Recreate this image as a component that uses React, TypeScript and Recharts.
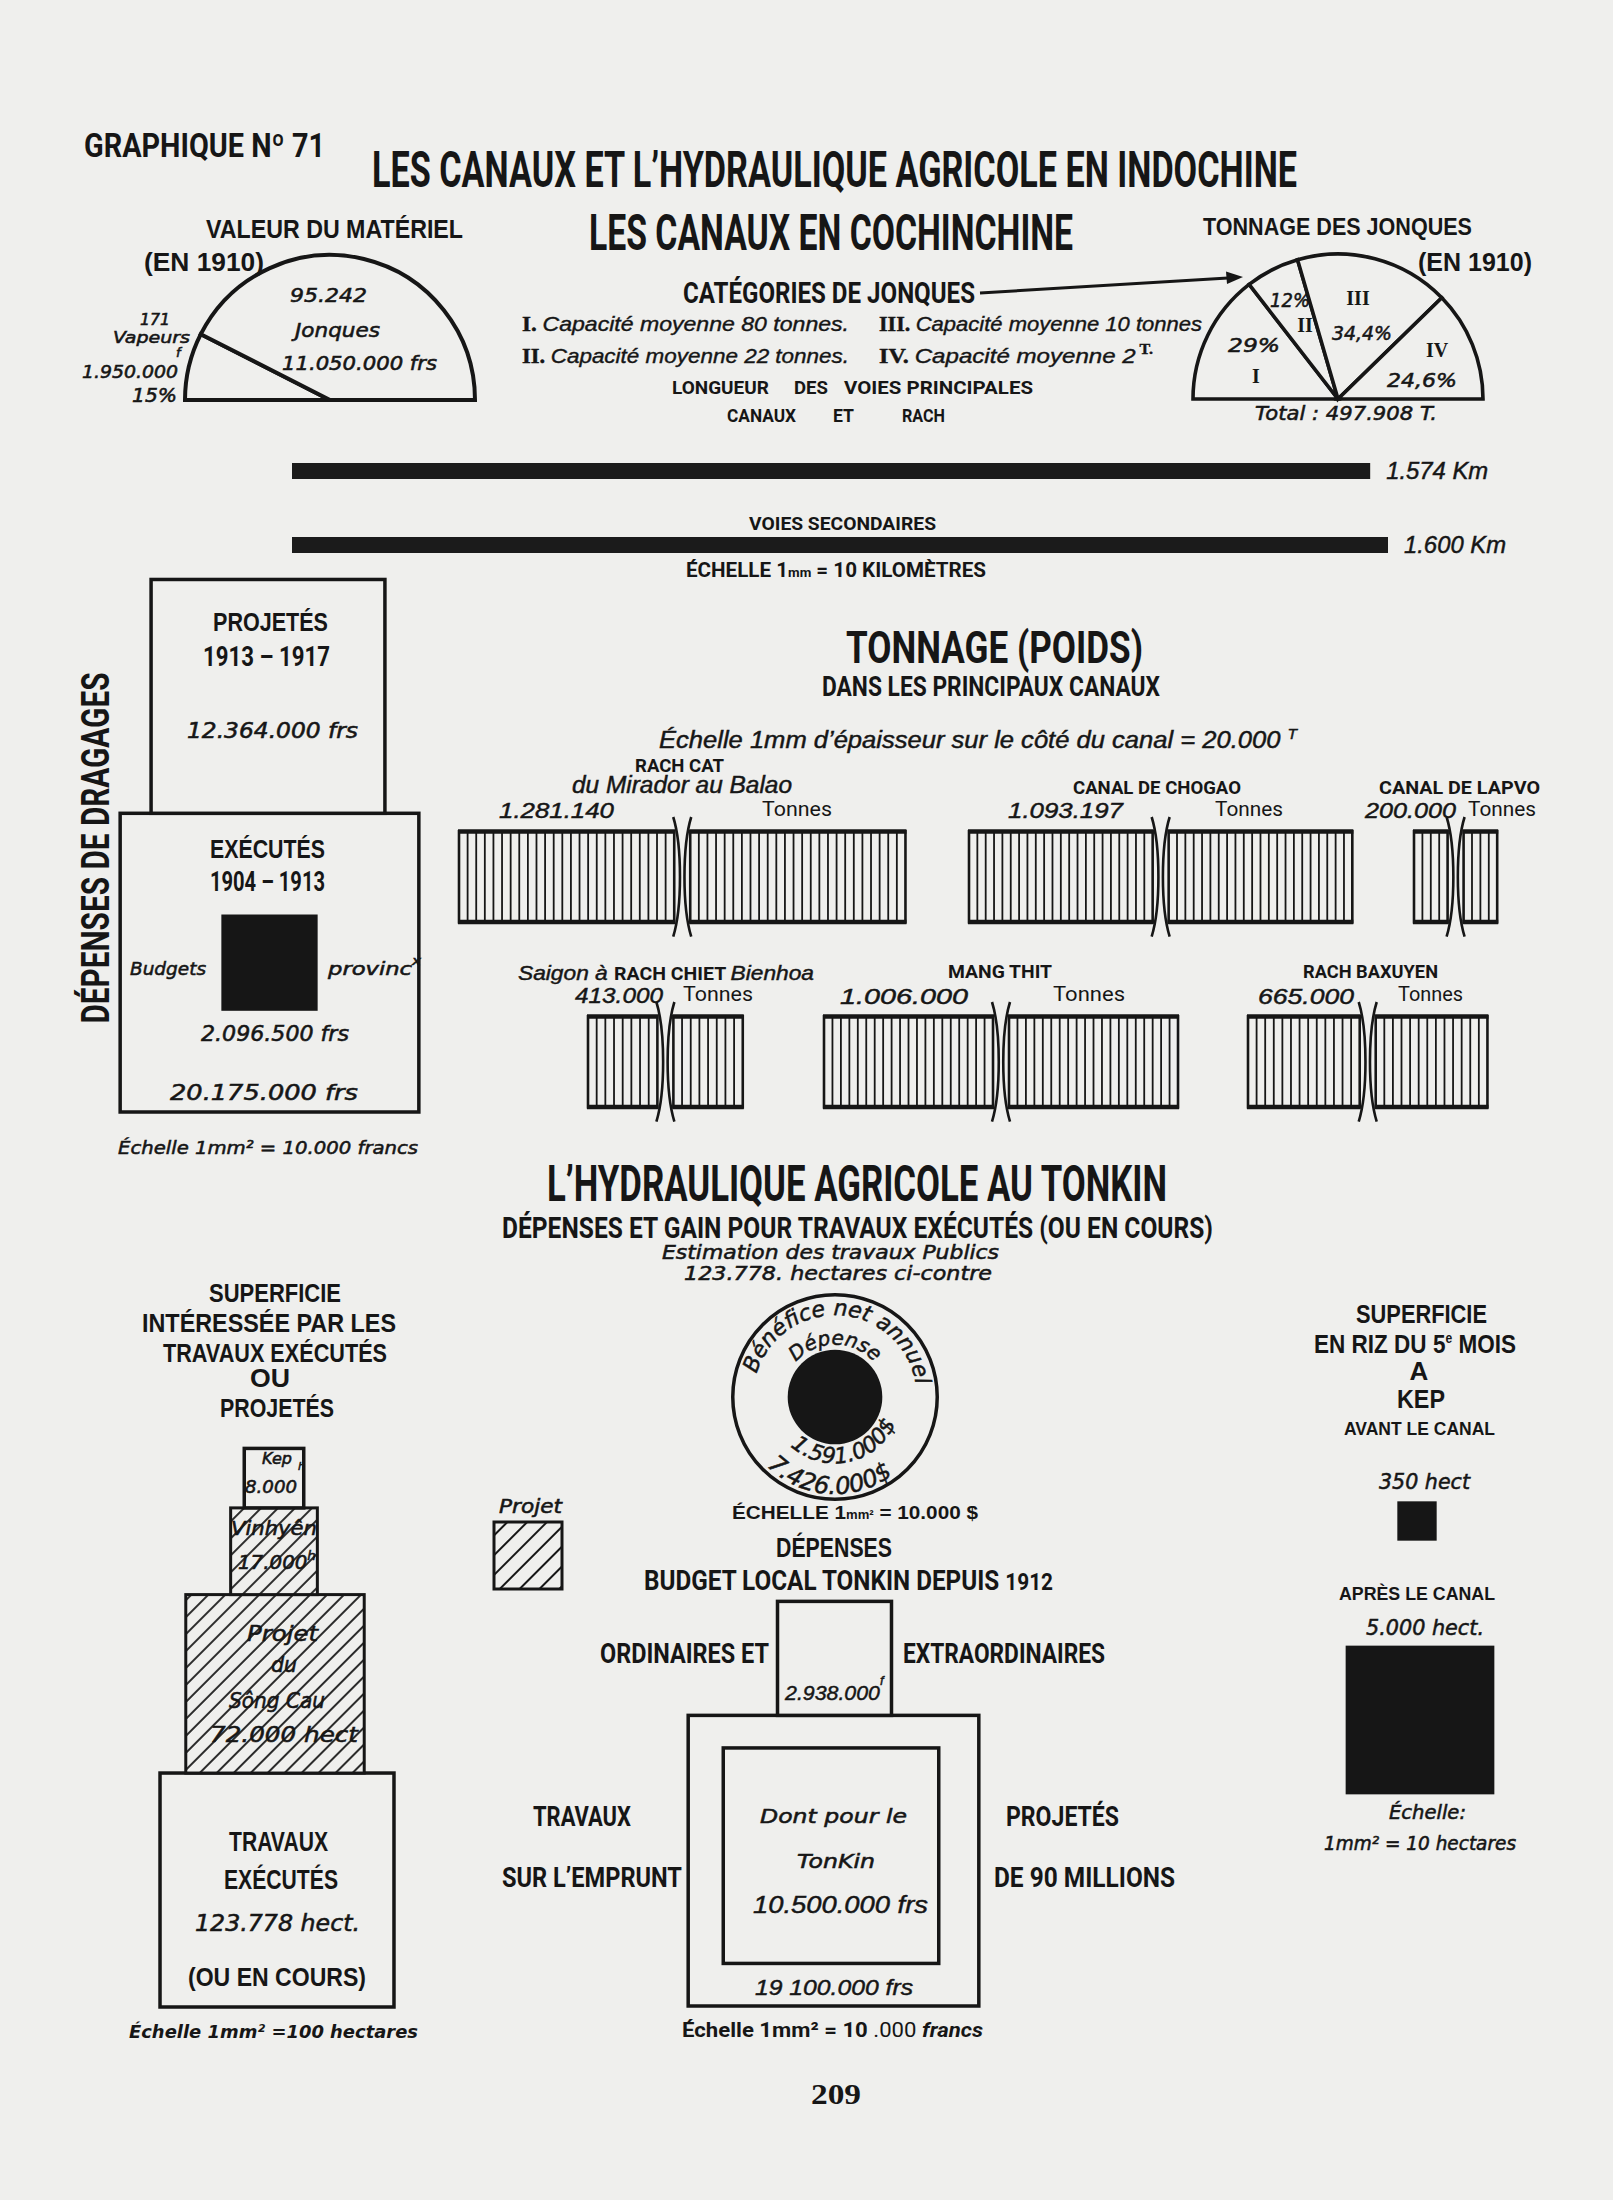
import React from "react";
import {
  PieChart,
  Pie,
  BarChart,
  Bar,
  XAxis,
  YAxis,
  ZAxis,
  ScatterChart,
  Scatter,
  LabelList,
} from "recharts";

const PAPER = "#efefed";
const INK = "#161616";
const COND = "Roboto, 'Liberation Sans', sans-serif";
const GROT = "'Liberation Sans', Arial, sans-serif";
const ITAL = "'DejaVu Sans', Verdana, sans-serif";
const ITALC = "'Liberation Sans', Arial, sans-serif";
const SERIF = "'Liberation Serif', 'DejaVu Serif', serif";

// ---- data ----
const materielNames = ["Vapeurs", "Jonques"];
const materielCount = [171, 95242];
const materielFrancs = [1950000, 11050000];

const jonqueCats = ["I", "II", "III", "IV"];
const jonqueShare = [29, 12, 34.4, 24.6];
const jonqueCapacity = [80, 22, 10, 2];
const jonqueTotal = 497908;

const voies = ["Voies principales", "Voies secondaires"];
const voiesKm = [1574, 1600];

const canals = ["RACH CAT", "CANAL DE CHOGAO", "CANAL DE LAPVO", "RACH CHIET", "MANG THIT", "RACH BAXUYEN"];
const canalTonnes = [1281140, 1093197, 200000, 413000, 1006000, 665000];

const dragageLabels = ["Exécutés", "Projetés", "Budgets provinciaux"];
const dragageFrancs = [20175000, 12364000, 2096500];

const superficieLabels = ["Travaux exécutés", "Sông Cau", "Vinhyên", "Kep"];
const superficieHect = [123778, 72000, 17000, 8000];

const tonkinLabels = ["Bénéfice net annuel", "Dépense"];
const tonkinDollars = [7426000, 1591000];

const budgetLabels = ["Emprunt de 90 millions", "Dont pour le Tonkin", "Ordinaires et extraordinaires"];
const budgetFrancs = [19100000, 10500000, 2938000];

const kepLabels = ["Avant le canal", "Après le canal"];
const kepHect = [350, 5000];

// ---- scales ----
const PX_MM = 6.65; // px per mm on the plate
const KM_PX = 0.685; // px per km
const TON_PX = 168 / 1e6; // px per tonne of bank thickness
const GAP_PX = 16;
const BANK_H = 104;

const fmt = (n: number) => String(n).replace(/\B(?=(\d{3})+(?!\d))/g, ".");
const pct = (n: number) => `${String(n).replace(".", ",")}%`;
const side = (v: number, unit: number) => Math.sqrt(v / unit) * PX_MM;

function T({ x, y, w, s, f = COND, b = 700, i = false, a = "start", tr, st, children }: any) {
  const fit = w ? { textLength: w, lengthAdjust: "spacingAndGlyphs" } : {};
  return (
    <text
      x={x}
      y={y}
      fontSize={s}
      fontFamily={f}
      fontWeight={b}
      fontStyle={i ? "italic" : "normal"}
      textAnchor={a}
      fill={INK}
      stroke={st ? INK : undefined}
      strokeWidth={st}
      transform={tr}
      {...fit}
    >
      {children}
    </text>
  );
}
const I = { f: ITAL, b: 400, i: true, st: 0.55 };
const IC = { f: ITALC, b: 400, i: true, st: 0.45 };
const G = { f: GROT };

// ---- shapes ----
function areaShape(props: any) {
  const { cx, cy, size, payload } = props;
  const k = payload.kind;
  const pt = (rad: number, deg: number) =>
    `${cx + rad * Math.cos((deg * Math.PI) / 180)},${cy - rad * Math.sin((deg * Math.PI) / 180)}`;
  const arc = (rad: number, a1: number, a2: number, sweep: number) =>
    `M${pt(rad, a1)} A${rad},${rad} 0 0 ${sweep} ${pt(rad, a2)}`;
  const arcText = { fontFamily: ITAL, fontStyle: "italic", fill: INK, stroke: INK, strokeWidth: 0.5 };
  if (k === "ring") {
    const r = Math.sqrt(size / Math.PI);
    return (
      <g>
        <circle cx={cx} cy={cy} r={r} fill={PAPER} stroke={INK} strokeWidth={3.5} />
        <path id="ring-top" d={arc(r * 0.8, 168, 4, 1)} fill="none" />
        <path id="ring-bot" d={arc(r * 0.95, 220, 312, 0)} fill="none" />
        <text fontSize={22} {...arcText}>
          <textPath href="#ring-top" startOffset="50%" textAnchor="middle">{payload.label}</textPath>
        </text>
        <text fontSize={24} {...arcText}>
          <textPath href="#ring-bot" startOffset="50%" textAnchor="middle">{fmt(payload.v)}$</textPath>
        </text>
      </g>
    );
  }
  if (k === "disc") {
    const r = Math.sqrt(size / Math.PI);
    return (
      <g>
        <circle cx={cx} cy={cy} r={r} fill={INK} />
        <path id="disc-top" d={arc(r + 5, 142, 38, 1)} fill="none" />
        <path id="disc-bot" d={arc(r + 19, 214, 350, 0)} fill="none" />
        <text fontSize={20} {...arcText}>
          <textPath href="#disc-top" startOffset="50%" textAnchor="middle">{payload.label}</textPath>
        </text>
        <text fontSize={22} {...arcText}>
          <textPath href="#disc-bot" startOffset="50%" textAnchor="middle">{fmt(payload.v)}$</textPath>
        </text>
      </g>
    );
  }
  const s = Math.sqrt(size);
  const x = cx - s / 2;
  const y = cy - s / 2;
  if (k === "solid") return <rect x={x} y={y} width={s} height={s} fill={INK} />;
  if (k === "hatch")
    return (
      <g>
        <rect x={x} y={y} width={s} height={s} fill={PAPER} />
        <rect x={x} y={y} width={s} height={s} fill="url(#hatch)" />
        <rect x={x} y={y} width={s} height={s} fill="none" stroke={INK} strokeWidth={3} />
      </g>
    );
  return <rect x={x} y={y} width={s} height={s} fill={PAPER} stroke={INK} strokeWidth={3.5} />;
}

function AreaPanel({ left, top, width, height, points, unit }: any) {
  const maxV = Math.max(...points.map((p: any) => p.v));
  const maxArea = (maxV / unit) * PX_MM * PX_MM;
  return (
    <div style={{ position: "absolute", left, top }}>
      <ScatterChart width={width} height={height} margin={{ top: 0, right: 0, bottom: 0, left: 0 }}>
        <XAxis type="number" dataKey="x" domain={[0, width]} hide />
        <YAxis type="number" dataKey="y" domain={[0, height]} reversed hide />
        <ZAxis type="number" dataKey="v" domain={[0, maxV]} range={[0, maxArea]} />
        <Scatter data={points} shape={areaShape} isAnimationActive={false} />
      </ScatterChart>
    </div>
  );
}

// stack squares upward from a bottom line
function stack(values: number[], unit: number, bottom: number, xs: number[], kinds: string[], labels: string[]) {
  let b = bottom;
  return values.map((v, i) => {
    const s = side(v, unit);
    const p = { x: xs[i], y: b - s / 2, v, kind: kinds[i], label: labels[i] };
    b -= s;
    return p;
  });
}

function bankShape(p: any) {
  const { x, y, width, height } = p;
  const n = Math.max(2, Math.round(width / 8.5));
  const step = width / n;
  const lines = [];
  for (let i = 0; i <= n; i++) {
    lines.push(
      <line key={i} x1={x + i * step} x2={x + i * step} y1={y} y2={y + height} stroke={INK} strokeWidth={i === 0 || i === n ? 2.6 : 1.8} />
    );
  }
  return (
    <g>
      <rect x={x} y={y} width={width} height={height} fill={PAPER} />
      {lines}
      <line x1={x - 1} x2={x + width + 1} y1={y + 1.5} y2={y + 1.5} stroke={INK} strokeWidth={4.5} />
      <line x1={x - 1} x2={x + width + 1} y1={y + height - 1.5} y2={y + height - 1.5} stroke={INK} strokeWidth={4.5} />
    </g>
  );
}

function gapShape(p: any) {
  const { x, y, width, height } = p;
  const a = x + 1;
  const b = x + width - 1;
  const t0 = y - 13;
  const t1 = y + height + 13;
  return (
    <g fill="none" stroke={INK} strokeWidth={2.6}>
      <path d={`M${a - 2},${t0} C${a + 7},${y + 16} ${a + 7},${y + height - 16} ${a - 2},${t1}`} />
      <path d={`M${b + 2},${t0} C${b - 7},${y + 16} ${b - 7},${y + height - 16} ${b + 2},${t1}`} />
    </g>
  );
}

function Canal({ t, gx, top }: any) {
  const inner = 2 * t * TON_PX + GAP_PX;
  const data = [{ name: "c", left: t, gap: GAP_PX / TON_PX, right: t }];
  return (
    <div style={{ position: "absolute", left: gx - inner / 2 - 3, top: top - 18 }}>
      <BarChart layout="vertical" width={inner + 6} height={BANK_H + 36} data={data} margin={{ top: 18, right: 3, bottom: 18, left: 3 }} barCategoryGap={0}>
        <XAxis type="number" domain={[0, 2 * t + GAP_PX / TON_PX]} hide />
        <YAxis type="category" dataKey="name" hide />
        <Bar dataKey="left" stackId="c" barSize={BANK_H} shape={bankShape} isAnimationActive={false} />
        <Bar dataKey="gap" stackId="c" barSize={BANK_H} shape={gapShape} isAnimationActive={false} />
        <Bar dataKey="right" stackId="c" barSize={BANK_H} shape={bankShape} isAnimationActive={false} />
      </BarChart>
    </div>
  );
}

const kmLabel = (p: any) => {
  const vb = p.viewBox || {};
  const x = (vb.x ?? p.x) + (vb.width ?? p.width) + 16;
  const y = (vb.y ?? p.y) + (vb.height ?? p.height) / 2 + 8;
  return (
    <text x={x} y={y} fontSize={23} fontFamily={ITALC} fontStyle="italic" fill={INK} stroke={INK} strokeWidth={0.45} textLength={102} lengthAdjust="spacingAndGlyphs">
      {fmt(p.value)} Km
    </text>
  );
};

// layout anchors (page pixels)
const canalGapX = [682, 1161, 1456, 665, 1001, 1368];
const canalTop = [825, 825, 825, 1010, 1010, 1010];
const jPctPos = [
  { x: 1228, y: 352, w: 52 },
  { x: 1270, y: 307, w: 40 },
  { x: 1332, y: 340, w: 60 },
  { x: 1387, y: 387, w: 70 },
];
const jRomPos = [
  { x: 1256, y: 383 },
  { x: 1305, y: 332 },
  { x: 1358, y: 305 },
  { x: 1437, y: 357 },
];
const catPos = [
  { x: 522, y: 331, w: 327 },
  { x: 522, y: 363, w: 327 },
  { x: 879, y: 331, w: 323 },
  { x: 879, y: 363, w: 274 },
];

export default function App() {
  const materielData = materielNames.map((n, i) => ({ name: n, value: materielFrancs[i] }));
  const jonqueData = jonqueCats.map((n, i) => ({ name: n, value: jonqueShare[i] }));
  const voiesData = voies.map((n, i) => ({ name: n, km: voiesKm[i] }));
  const vapShare = Math.round((materielFrancs[0] / (materielFrancs[0] + materielFrancs[1])) * 100);

  const dragPts = (() => {
    const s0 = side(dragageFrancs[0], 10000);
    const s1 = side(dragageFrancs[1], 10000);
    const bottom = 552;
    return [
      { x: 169.5, y: bottom - s0 / 2, v: dragageFrancs[0], kind: "box", label: dragageLabels[0] },
      { x: 168, y: bottom - s0 - s1 / 2, v: dragageFrancs[1], kind: "box", label: dragageLabels[1] },
      { x: 169.5, y: bottom - s0 / 2, v: dragageFrancs[2], kind: "solid", label: dragageLabels[2] },
    ];
  })();

  const pyrPts = stack(superficieHect, 100, 587, [157, 155, 154, 154], ["box", "hatch", "hatch", "box"], superficieLabels);

  const budPts = (() => {
    const s0 = side(budgetFrancs[0], 10000);
    const s2 = side(budgetFrancs[2], 10000);
    const bottom = 416;
    return [
      { x: 173.5, y: bottom - s0 / 2, v: budgetFrancs[0], kind: "box", label: budgetLabels[0] },
      { x: 171, y: bottom - s0 / 2 - 5, v: budgetFrancs[1], kind: "box", label: budgetLabels[1] },
      { x: 174.5, y: bottom - s0 - s2 / 2, v: budgetFrancs[2], kind: "box", label: budgetLabels[2] },
    ];
  })();

  const kepPts = [
    { x: 97, y: 41, v: kepHect[0], kind: "solid", label: kepLabels[0] },
    { x: 100, y: 240, v: kepHect[1], kind: "solid", label: kepLabels[1] },
  ];

  const tonkinPts = [
    { x: 115, y: 117, v: tonkinDollars[0], kind: "ring", label: tonkinLabels[0] },
    { x: 115, y: 117, v: tonkinDollars[1], kind: "disc", label: tonkinLabels[1] },
  ];

  return (
    <div style={{ position: "absolute", left: 0, top: 0, width: 1613, height: 2200, background: PAPER, overflow: "hidden" }}>
      {/* valeur du matériel */}
      <div style={{ position: "absolute", left: 330 - 155, top: 400 - 155 }}>
        <PieChart width={310} height={165} margin={{ top: 0, right: 0, bottom: 0, left: 0 }}>
          <Pie data={materielData} dataKey="value" cx={155} cy={155} startAngle={180} endAngle={0} outerRadius={145} innerRadius={0} fill={PAPER} stroke={INK} strokeWidth={4} isAnimationActive={false} />
        </PieChart>
      </div>

      {/* tonnage des jonques */}
      <div style={{ position: "absolute", left: 1338 - 155, top: 399 - 155 }}>
        <PieChart width={310} height={165} margin={{ top: 0, right: 0, bottom: 0, left: 0 }}>
          <Pie data={jonqueData} dataKey="value" cx={155} cy={155} startAngle={180} endAngle={0} outerRadius={145} innerRadius={0} fill={PAPER} stroke={INK} strokeWidth={3.6} isAnimationActive={false} />
        </PieChart>
      </div>

      {/* longueur des voies */}
      <div style={{ position: "absolute", left: 292, top: 434 }}>
        <BarChart layout="vertical" width={1240} height={148} data={voiesData} margin={{ top: 0, right: 0, bottom: 0, left: 0 }} barCategoryGap={0}>
          <XAxis type="number" domain={[0, 1240 / KM_PX]} hide />
          <YAxis type="category" dataKey="name" hide />
          <Bar dataKey="km" barSize={16} fill="#1b1b1b" isAnimationActive={false}>
            <LabelList dataKey="km" content={kmLabel} />
          </Bar>
        </BarChart>
      </div>

      {/* tonnage des canaux */}
      {canals.map((c, i) => (
        <Canal key={c} t={canalTonnes[i]} gx={canalGapX[i]} top={canalTop[i]} />
      ))}

      <AreaPanel left={100} top={560} width={340} height={570} points={dragPts} unit={10000} />
      <AreaPanel left={120} top={1420} width={320} height={600} points={pyrPts} unit={100} />
      <AreaPanel left={660} top={1590} width={350} height={430} points={budPts} unit={10000} />
      <AreaPanel left={1320} top={1480} width={200} height={330} points={kepPts} unit={10} />
      <AreaPanel left={720} top={1280} width={230} height={240} points={tonkinPts} unit={10000} />

      <svg width={1613} height={2200} style={{ position: "absolute", left: 0, top: 0, pointerEvents: "none" }}>
        <defs>
          <pattern id="hatch" width={12} height={12} patternUnits="userSpaceOnUse" patternTransform="rotate(45)">
            <line x1={6} y1={-1} x2={6} y2={13} stroke={INK} strokeWidth={1.8} />
          </pattern>
          <pattern id="hatch2" width={14} height={14} patternUnits="userSpaceOnUse" patternTransform="rotate(45)">
            <line x1={7} y1={-1} x2={7} y2={15} stroke={INK} strokeWidth={2} />
          </pattern>
        </defs>

        {/* header */}
        <T x={84} y={157} w={241} s={33}>GRAPHIQUE Nº 71</T>
        <T x={372} y={187} w={925} s={50}>LES CANAUX ET L’HYDRAULIQUE AGRICOLE EN INDOCHINE</T>
        <T x={589} y={250} w={484} s={50}>LES CANAUX EN COCHINCHINE</T>

        {/* valeur du matériel */}
        <T {...G} x={206} y={238} w={257} s={25}>VALEUR DU MATÉRIEL</T>
        <T {...G} x={144} y={271} w={120} s={25}>(EN 1910)</T>
        <T {...I} x={290} y={302} w={77} s={19}>{fmt(materielCount[1])}</T>
        <T {...I} x={295} y={337} w={85} s={19}>{materielNames[1]}</T>
        <T {...I} x={282} y={370} w={155} s={19}>{fmt(materielFrancs[1])} frs</T>
        <T {...I} x={140} y={325} w={30} s={15}>{materielCount[0]}</T>
        <T {...I} x={113} y={343} w={77} s={16}>{materielNames[0]}</T>
        <T {...I} x={176} y={357} s={13}>f</T>
        <T {...I} x={82} y={378} w={96} s={17}>{fmt(materielFrancs[0])}</T>
        <T {...I} x={132} y={402} w={45} s={19}>{vapShare}%</T>

        {/* catégories */}
        <T x={683} y={303} w={292} s={29}>CATÉGORIES DE JONQUES</T>
        <line x1={980} y1={293} x2={1228} y2={278} stroke={INK} strokeWidth={3} />
        <polygon points="1243,277 1226,271.5 1227,284" fill={INK} />
        {jonqueCats.map((c, i) => (
          <text key={c} x={catPos[i].x} y={catPos[i].y} fontSize={21} fill={INK} stroke={INK} strokeWidth={0.4} textLength={catPos[i].w} lengthAdjust="spacingAndGlyphs">
            <tspan fontFamily={SERIF} fontWeight={700}>{c}. </tspan>
            <tspan fontFamily={ITALC} fontStyle="italic">Capacité moyenne {jonqueCapacity[i]}</tspan>
            {i === 3 ? (
              <tspan fontFamily={SERIF} fontWeight={700} fontSize={14} dy={-9}> T.</tspan>
            ) : (
              <tspan fontFamily={ITALC} fontStyle="italic"> tonnes{i === 2 ? "" : "."}</tspan>
            )}
          </text>
        ))}
        <T x={672} y={394} w={97} s={19}>LONGUEUR</T>
        <T x={794} y={394} w={34} s={19}>DES</T>
        <T x={844} y={394} w={189} s={19}>VOIES PRINCIPALES</T>
        <T x={727} y={422} w={69} s={19}>CANAUX</T>
        <T x={833} y={422} w={21} s={19}>ET</T>
        <T x={902} y={422} w={43} s={19}>RACH</T>
        <T x={749} y={530} w={187} s={19}>VOIES SECONDAIRES</T>
        <T x={686} y={577} w={300} s={20}>
          ÉCHELLE 1<tspan fontSize={13}>mm</tspan> = 10 KILOMÈTRES
        </T>

        {/* tonnage des jonques */}
        <T {...G} x={1203} y={235} w={269} s={24}>TONNAGE DES JONQUES</T>
        <T {...G} x={1418} y={271} w={114} s={25}>(EN 1910)</T>
        {jonqueShare.map((v, i) => (
          <T key={"p" + i} {...I} x={jPctPos[i].x} y={jPctPos[i].y} w={jPctPos[i].w} s={20}>{pct(v)}</T>
        ))}
        {jonqueCats.map((c, i) => (
          <T key={"r" + i} f={SERIF} x={jRomPos[i].x} y={jRomPos[i].y} s={20} a="middle">{c}</T>
        ))}
        <T {...I} x={1255} y={420} w={182} s={20}>Total : {fmt(jonqueTotal)} T.</T>

        {/* dragages */}
        <T x={0} y={0} w={351} s={39} a="middle" tr="translate(109,848) rotate(-90)">DÉPENSES DE DRAGAGES</T>
        <T {...G} x={213} y={631} w={115} s={26}>PROJETÉS</T>
        <T x={203} y={666} w={127} s={28}>1913 – 1917</T>
        <T {...I} x={187} y={738} w={171} s={21}>{fmt(dragageFrancs[1])} frs</T>
        <T {...G} x={210} y={858} w={115} s={26}>EXÉCUTÉS</T>
        <T x={210} y={891} w={115} s={28}>1904 – 1913</T>
        <T {...I} x={130} y={975} w={76} s={18}>Budgets</T>
        <T {...I} x={328} y={975} w={93} s={18}>
          provinc<tspan fontSize={12} dy={-10}>x</tspan>
        </T>
        <T {...I} x={201} y={1041} w={148} s={21}>{fmt(dragageFrancs[2])} frs</T>
        <T {...I} x={170} y={1100} w={188} s={22}>{fmt(dragageFrancs[0])} frs</T>
        <T {...I} x={118} y={1154} w={300} s={18}>Échelle 1mm² = 10.000 francs</T>

        {/* tonnage (poids) */}
        <T x={846} y={663} w={297} s={45}>TONNAGE (POIDS)</T>
        <T x={822} y={696} w={338} s={27}>DANS LES PRINCIPAUX CANAUX</T>
        <T {...IC} x={659} y={748} w={638} s={23}>
          Échelle 1mm d’épaisseur sur le côté du canal = 20.000 <tspan fontSize={14} dy={-9}>T</tspan>
        </T>
        <T x={635} y={772} w={89} s={18}>{canals[0]}</T>
        <T {...IC} x={572} y={793} w={220} s={23}>du Mirador au Balao</T>
        <T {...IC} x={499} y={818} w={115} s={22}>{fmt(canalTonnes[0])}</T>
        <T b={400} x={762} y={816} w={70} s={20}>Tonnes</T>
        <T x={1073} y={794} w={168} s={18}>{canals[1]}</T>
        <T {...IC} x={1008} y={818} w={115} s={22}>{fmt(canalTonnes[1])}</T>
        <T b={400} x={1215} y={816} w={68} s={20}>Tonnes</T>
        <T x={1379} y={794} w={161} s={18}>{canals[2]}</T>
        <T {...IC} x={1365} y={818} w={91} s={22}>{fmt(canalTonnes[2])}</T>
        <T b={400} x={1468} y={816} w={68} s={20}>Tonnes</T>
        <text x={518} y={980} fontSize={21} fill={INK} textLength={296} lengthAdjust="spacingAndGlyphs">
          <tspan fontFamily={ITALC} fontStyle="italic" stroke={INK} strokeWidth={0.45}>Saigon à </tspan>
          <tspan fontFamily={COND} fontWeight={700} fontSize={18}>{canals[3]} </tspan>
          <tspan fontFamily={ITALC} fontStyle="italic" stroke={INK} strokeWidth={0.45}>Bienhoa</tspan>
        </text>
        <T {...IC} x={575} y={1003} w={88} s={22}>{fmt(canalTonnes[3])}</T>
        <T b={400} x={683} y={1001} w={70} s={20}>Tonnes</T>
        <T x={948} y={978} w={104} s={18}>{canals[4]}</T>
        <T {...IC} x={840} y={1004} w={128} s={22}>{fmt(canalTonnes[4])}</T>
        <T b={400} x={1053} y={1001} w={72} s={20}>Tonnes</T>
        <T x={1303} y={978} w={135} s={18}>{canals[5]}</T>
        <T {...IC} x={1258} y={1004} w={96} s={22}>{fmt(canalTonnes[5])}</T>
        <T b={400} x={1398} y={1001} w={65} s={20}>Tonnes</T>

        {/* hydraulique agricole */}
        <T x={547} y={1201} w={620} s={50}>L’HYDRAULIQUE AGRICOLE AU TONKIN</T>
        <T x={502} y={1238} w={711} s={29}>DÉPENSES ET GAIN POUR TRAVAUX EXÉCUTÉS (OU EN COURS)</T>
        <T {...I} x={662} y={1259} w={337} s={20}>Estimation des travaux Publics</T>
        <T {...I} x={684} y={1280} w={308} s={20}>{fmt(superficieHect[0])}. hectares ci-contre</T>
        <T {...G} x={732} y={1519} w={246} s={19}>
          ÉCHELLE 1<tspan fontSize={12}>mm²</tspan> = 10.000 $
        </T>
        <T {...I} x={499} y={1513} w={63} s={19}>Projet</T>
        <rect x={494} y={1522} width={68} height={67} fill="url(#hatch2)" stroke={INK} strokeWidth={3} />
        <T {...G} x={776} y={1557} w={116} s={27}>DÉPENSES</T>
        <T x={644} y={1590} w={409} s={28}>
          BUDGET LOCAL TONKIN DEPUIS <tspan fontSize={24}>1912</tspan>
        </T>
        <T x={600} y={1663} w={169} s={27}>ORDINAIRES ET</T>
        <T x={903} y={1663} w={202} s={27}>EXTRAORDINAIRES</T>
        <T {...IC} x={785} y={1700} w={95} s={20}>{fmt(budgetFrancs[2])}</T>
        <T {...IC} x={880} y={1685} s={13}>f</T>
        <T x={533} y={1826} w={98} s={27}>TRAVAUX</T>
        <T x={502} y={1887} w={180} s={28}>SUR L’EMPRUNT</T>
        <T x={1006} y={1826} w={113} s={27}>PROJETÉS</T>
        <T x={994} y={1887} w={181} s={28}>DE 90 MILLIONS</T>
        <T {...I} x={760} y={1823} w={147} s={20}>Dont pour le</T>
        <T {...I} x={797} y={1868} w={78} s={20}>TonKin</T>
        <T {...IC} x={753} y={1913} w={175} s={23}>{fmt(budgetFrancs[1])} frs</T>
        <T {...IC} x={755} y={1995} w={158} s={22}>{fmt(budgetFrancs[0]).replace(".", " ")} frs</T>
        <T x={682} y={2037} w={301} s={21}>
          Échelle 1mm² = 10<tspan fontWeight={400}> .000 </tspan>
          <tspan fontStyle="italic">francs</tspan>
        </T>

        {/* superficie (gauche) */}
        <T {...G} x={209} y={1302} w={132} s={26}>SUPERFICIE</T>
        <T {...G} x={142} y={1332} w={254} s={26}>INTÉRESSÉE PAR LES</T>
        <T {...G} x={163} y={1362} w={224} s={26}>TRAVAUX EXÉCUTÉS</T>
        <T {...G} x={250} y={1387} w={40} s={25}>OU</T>
        <T {...G} x={220} y={1417} w={114} s={26}>PROJETÉS</T>
        <T {...I} x={262} y={1464} w={30} s={15}>{superficieLabels[3]}</T>
        <T {...I} x={298} y={1470} s={11}>h</T>
        <T {...I} x={245} y={1493} w={52} s={17}>{fmt(superficieHect[3])}</T>
        <T {...I} x={231} y={1535} w={86} s={19}>{superficieLabels[2]}</T>
        <T {...I} x={238} y={1569} w={78} s={19}>
          {fmt(superficieHect[2])}<tspan fontSize={13} dy={-9}>h</tspan>
        </T>
        <T {...I} x={247} y={1641} w={71} s={22}>Projet</T>
        <T {...I} x={271} y={1672} w={26} s={22}>du</T>
        <T {...I} x={229} y={1708} w={96} s={22}>{superficieLabels[1]}</T>
        <T {...I} x={210} y={1742} w={148} s={22}>{fmt(superficieHect[1])} hect</T>
        <T {...G} x={229} y={1851} w={99} s={27}>TRAVAUX</T>
        <T {...G} x={224} y={1889} w={114} s={27}>EXÉCUTÉS</T>
        <T {...I} x={195} y={1931} w={165} s={23}>{fmt(superficieHect[0])} hect.</T>
        <T {...G} x={188} y={1986} w={178} s={26} b={700}>(OU EN COURS)</T>
        <T {...I} b={700} st={0} x={129} y={2038} w={289} s={18}>Échelle 1mm² =100 hectares</T>

        {/* superficie (droite) */}
        <T {...G} x={1356} y={1323} w={131} s={26}>SUPERFICIE</T>
        <T {...G} x={1314} y={1353} w={202} s={26}>
          EN RIZ DU 5<tspan fontSize={14} dy={-10}>e</tspan>
          <tspan dy={10}> MOIS</tspan>
        </T>
        <T {...G} x={1419} y={1380} s={26} a="middle">A</T>
        <T {...G} x={1397} y={1408} w={48} s={26}>KEP</T>
        <T {...G} x={1344} y={1435} w={151} s={18}>AVANT LE CANAL</T>
        <T {...I} x={1379} y={1489} w={91} s={22}>{kepHect[0]} hect</T>
        <T {...G} x={1339} y={1600} w={156} s={18}>APRÈS LE CANAL</T>
        <T {...I} x={1366} y={1635} w={118} s={22}>{fmt(kepHect[1])} hect.</T>
        <T {...I} x={1389} y={1819} w={77} s={19}>Échelle:</T>
        <T {...I} x={1324} y={1850} w={192} s={19}>1mm² = 10 hectares</T>

        <T f={SERIF} x={811} y={2104} w={50} s={30}>209</T>
      </svg>
    </div>
  );
}
